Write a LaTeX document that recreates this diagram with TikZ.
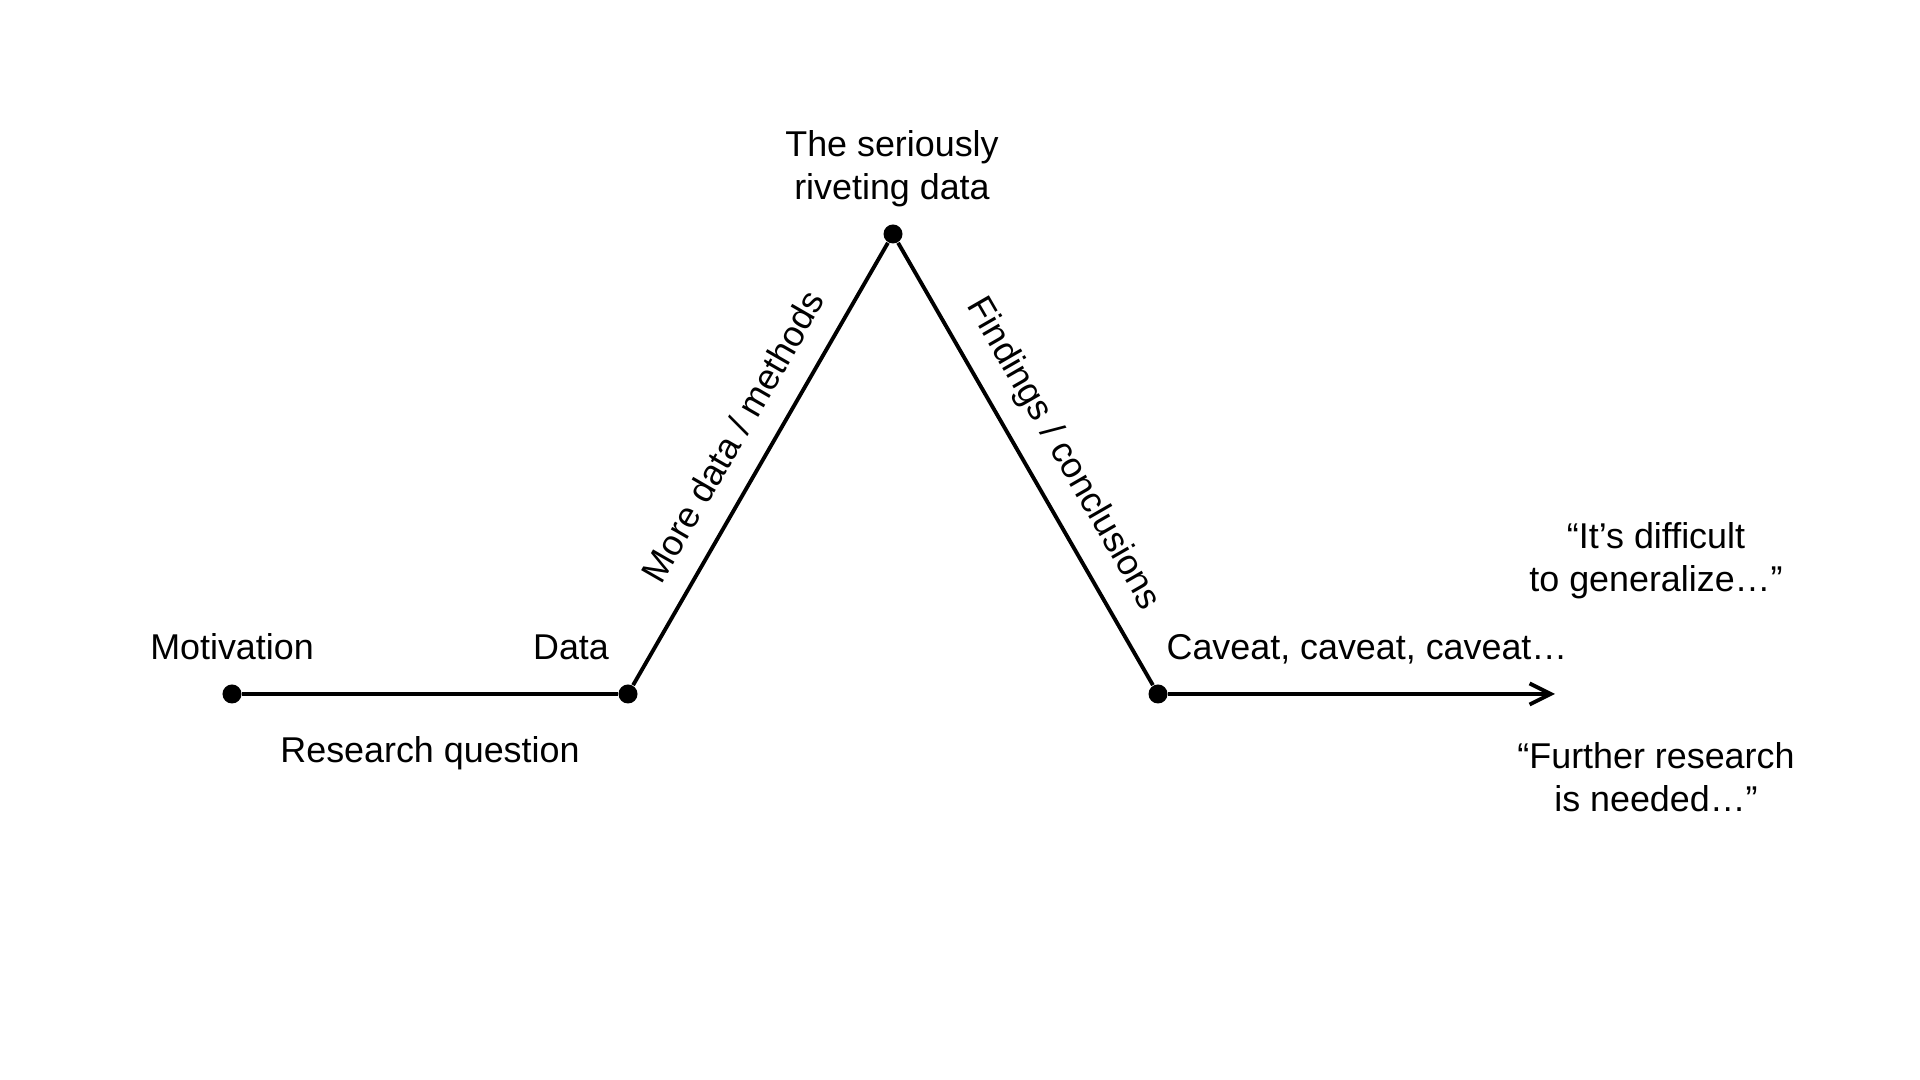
\documentclass[tikz,border=0pt]{standalone}
\usepackage{fontspec}
\setmainfont{Liberation Sans}
\usetikzlibrary{arrows.meta}

\begin{document}
\begin{tikzpicture}[x=0.01cm,y=-0.01cm,
		dot/.style={circle,fill=black,inner sep=0pt,minimum size=0.19cm},
		txt/.style={font=\fontsize{10.2}{12.5}\selectfont,inner sep=0pt},
		stroke/.style={line width=1.1pt}]
		\useasboundingbox (0,0) rectangle (1920,1080);
		\coordinate (motiv) at (232,694);
		\coordinate (data) at (628,694);
		\coordinate (peak) at (893,234);
		\coordinate (caveat) at (1158,694);
		\coordinate (end) at (1555,694);
		\node[dot] (Motivation) at (motiv) {};
		\node[dot] (Data) at (data) {};
		\node[dot] (Peak) at (peak) {};
		\node[dot] (Caveat) at (caveat) {};
	
		\draw[stroke] (Motivation) -- (Data);
		\draw[stroke] (Data) -- (Peak) node[txt,pos=0.52,sloped,above=6.5pt] (more) {More data / methods};
		\draw[stroke] (Peak) -- (Caveat) node[txt,pos=0.52,sloped,above=5.3pt] (findings) {Findings / conclusions};
		\draw[stroke,-{Straight Barb[length=6pt,width=6pt]}] (Caveat) -- (end);
	
		\node[txt,anchor=base] (motivlabel) at (232,660) {Motivation};
		\node[txt,anchor=base] (datalabel) at (571,660) {Data};
		\node[txt,anchor=base] (question) at (430,763) {Research question};
		\node[txt,anchor=base] (caveats) at (1367,660) {Caveat, caveat, caveat…};
		\node[txt,anchor=base,align=center] (peaklabel) at (892,200) {The seriously\\riveting data};
		\node[txt,anchor=base,align=center] (general) at (1656,592) {“It’s difficult\\to generalize…”};
		\node[txt,anchor=base,align=center] (further) at (1656,812) {“Further research\\is needed…”};
	\end{tikzpicture}
\end{document}
